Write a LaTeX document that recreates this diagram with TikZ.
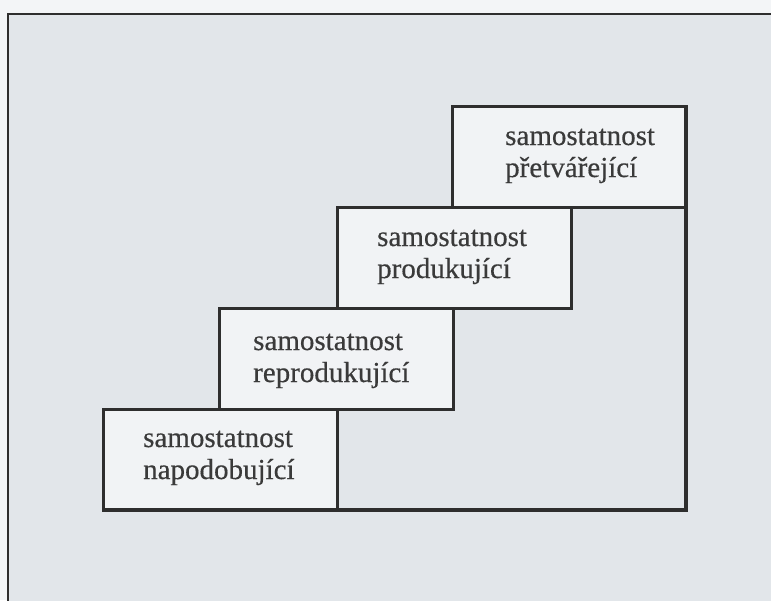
\documentclass[tikz,border=0pt]{standalone}
\usepackage{fontspec}
\setmainfont{Liberation Serif}
\newfontfamily\labelfont{Liberation Serif}[FakeBold=0.4]
\definecolor{page}{HTML}{F3F5F7}
\definecolor{panel}{HTML}{E2E6EA}
\definecolor{boxfill}{HTML}{F1F3F5}
\definecolor{ink}{HTML}{2E2E2E}
\definecolor{textink}{HTML}{3A3A3A}
\tikzset{
  stepbox/.style={draw=ink, fill=boxfill, line width=3pt, rectangle,
    minimum width=234pt, minimum height=101pt, inner sep=0pt, outer sep=0pt,
    anchor=north west},
  steptext/.style={font=\labelfont\fontsize{29}{32}\selectfont, text=textink,
    align=left, inner sep=0pt, anchor=base west},
  outline/.style={draw=ink, line width=4pt, line join=miter}
}
\begin{document}
\begin{tikzpicture}[x=1pt,y=-1pt]
  \useasboundingbox (0,0) rectangle (771,600);
  % page and framed panel
  \fill[page] (0,0) rectangle (771,600);
  \fill[panel] (8,14) rectangle (780,610);
  \draw[ink, line width=2.2pt] (8,610) -- (8,14) -- (780,14);
  % the four steps
  \node[stepbox] (b4) at (452,106) {};
  \node[stepbox] (b3) at (337,207) {};
  \node[stepbox] (b2) at (219,308) {};
  \node[stepbox] (b1) at (103,409) {};
  % right side and base of the staircase
  \draw[outline] (b4.north east) -- (b4.east |- b1.south) -- (b1.south west);
  % labels (anchored at the baseline of the second line)
  \node[steptext] (t4) at (505,177) {samostatnost\\přetvářející};
  \node[steptext] (t3) at (377,278) {samostatnost\\produkující};
  \node[steptext] (t2) at (253,382) {samostatnost\\reprodukující};
  \node[steptext] (t1) at (143,479) {samostatnost\\napodobující};
\end{tikzpicture}
\end{document}
